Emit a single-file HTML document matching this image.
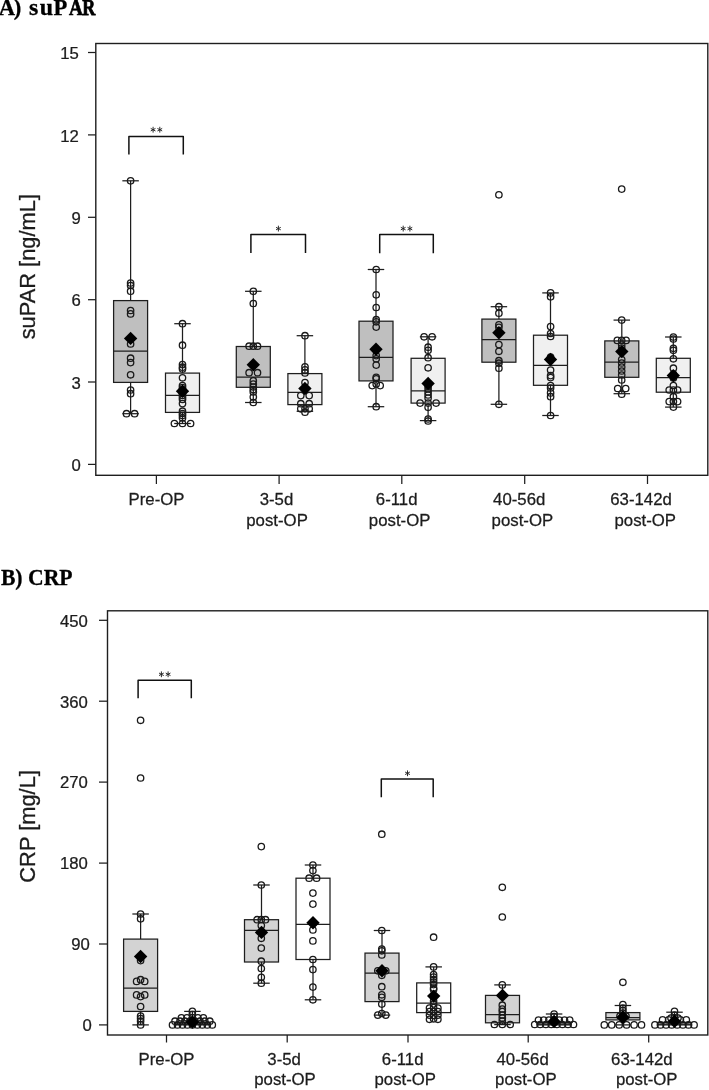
<!DOCTYPE html>
<html><head><meta charset="utf-8"><title>Figure</title>
<style>
html,body{margin:0;padding:0;background:#fff;}
body{width:709px;height:1090px;overflow:hidden;position:relative;font-family:"Liberation Sans",sans-serif;}
svg{position:absolute;left:0;top:0;display:block;will-change:transform;}
.l{stroke:#1e1e1e;stroke-width:1.25;fill:none;}
.f{stroke:#1e1e1e;stroke-width:1.4;}
.b{stroke:#1e1e1e;stroke-width:1.25;}
.c{stroke:#1a1a1a;stroke-width:1.3;fill:none;}
.t{font-family:"Liberation Sans",sans-serif;font-size:16px;fill:#1c1c1c;stroke:#1c1c1c;stroke-width:0.25;}
.x{font-size:16px;}
.yl{font-family:"Liberation Sans",sans-serif;font-size:21.85px;fill:#1c1c1c;stroke:#1c1c1c;stroke-width:0.3;}
.h{font-family:"Liberation Serif",serif;font-weight:bold;font-size:22.6px;fill:#000;stroke:#000;stroke-width:0.3;}
.h2{stroke-width:0.75;}
</style></head><body>
<svg width="709" height="1090" viewBox="0 0 709 1090">
<rect width="709" height="1090" fill="#fff"/>
<text y="14.7" class="h"><tspan x="-1.2">A</tspan><tspan x="13.7">)</tspan><tspan x="53.5">P</tspan></text>
<text transform="translate(28.9,14.7) scale(1.06,1)" class="h" letter-spacing="1.5">su</text>
<text transform="translate(68.9,14.7) scale(0.85,1)" class="h h2">A</text>
<text transform="translate(82.2,14.7) scale(0.8,1)" class="h h2">R</text>
<text transform="translate(0.9,585) scale(0.96,1.03)" class="h">B) CRP</text>
<rect x="95.8" y="43.5" width="612" height="431.8" fill="none" class="f"/>
<line x1="88" y1="52.5" x2="95.8" y2="52.5" class="l"/>
<text transform="translate(78.9,59.2) scale(1.045,1)" text-anchor="end" class="t">15</text>
<line x1="88" y1="134.9" x2="95.8" y2="134.9" class="l"/>
<text transform="translate(78.9,141.6) scale(1.045,1)" text-anchor="end" class="t">12</text>
<line x1="88" y1="217.3" x2="95.8" y2="217.3" class="l"/>
<text transform="translate(80.8,224.0) scale(1.045,1)" text-anchor="end" class="t">9</text>
<line x1="88" y1="299.7" x2="95.8" y2="299.7" class="l"/>
<text transform="translate(80.8,306.4) scale(1.045,1)" text-anchor="end" class="t">6</text>
<line x1="88" y1="382" x2="95.8" y2="382" class="l"/>
<text transform="translate(80.8,388.7) scale(1.045,1)" text-anchor="end" class="t">3</text>
<line x1="88" y1="464.4" x2="95.8" y2="464.4" class="l"/>
<text transform="translate(80.8,471.09999999999997) scale(1.045,1)" text-anchor="end" class="t">0</text>
<line x1="156.4" y1="475.3" x2="156.4" y2="484" class="l"/>
<line x1="279.1" y1="475.3" x2="279.1" y2="484" class="l"/>
<line x1="401.8" y1="475.3" x2="401.8" y2="484" class="l"/>
<line x1="524.7" y1="475.3" x2="524.7" y2="484" class="l"/>
<line x1="647.5" y1="475.3" x2="647.5" y2="484" class="l"/>
<text transform="translate(156.5,505.3) scale(1.05,1)" text-anchor="middle" class="t x">Pre-OP</text>
<text transform="translate(276.5,505.3) scale(1.05,1)" text-anchor="middle" class="t x">3-5d</text>
<text transform="translate(277.05,525.6) scale(1.05,1)" text-anchor="middle" class="t x">post-OP</text>
<text transform="translate(396.7,505.3) scale(1.05,1)" text-anchor="middle" class="t x">6-11d</text>
<text transform="translate(399.6,525.6) scale(1.05,1)" text-anchor="middle" class="t x">post-OP</text>
<text transform="translate(519.2,505.3) scale(1.05,1)" text-anchor="middle" class="t x">40-56d</text>
<text transform="translate(522.4,525.6) scale(1.05,1)" text-anchor="middle" class="t x">post-OP</text>
<text transform="translate(641.05,505.3) scale(1.05,1)" text-anchor="middle" class="t x">63-142d</text>
<text transform="translate(645.25,525.6) scale(1.05,1)" text-anchor="middle" class="t x">post-OP</text>
<text transform="translate(35.2,266.7) rotate(-90)" text-anchor="middle" class="yl">suPAR [ng/mL]</text>
<line x1="130.6" y1="180.8" x2="130.6" y2="300.6" class="l"/>
<line x1="122.35" y1="180.8" x2="138.85" y2="180.8" class="l"/>
<line x1="130.6" y1="382.4" x2="130.6" y2="413.7" class="l"/>
<line x1="122.35" y1="413.7" x2="138.85" y2="413.7" class="l"/>
<rect x="113.6" y="300.6" width="34" height="81.79999999999995" fill="#bfbfbf" class="b"/>
<line x1="113.6" y1="351.1" x2="147.6" y2="351.1" class="l"/>
<line x1="182.5" y1="323.7" x2="182.5" y2="373.1" class="l"/>
<line x1="174.25" y1="323.7" x2="190.75" y2="323.7" class="l"/>
<line x1="182.5" y1="412.4" x2="182.5" y2="423.5" class="l"/>
<line x1="174.25" y1="423.5" x2="190.75" y2="423.5" class="l"/>
<rect x="165.5" y="373.1" width="34" height="39.299999999999955" fill="#f0f0f0" class="b"/>
<line x1="165.5" y1="395.4" x2="199.5" y2="395.4" class="l"/>
<line x1="253.3" y1="291.3" x2="253.3" y2="346.5" class="l"/>
<line x1="245.05" y1="291.3" x2="261.55" y2="291.3" class="l"/>
<line x1="253.3" y1="387.3" x2="253.3" y2="402.5" class="l"/>
<line x1="245.05" y1="402.5" x2="261.55" y2="402.5" class="l"/>
<rect x="236.3" y="346.5" width="34" height="40.80000000000001" fill="#bfbfbf" class="b"/>
<line x1="236.3" y1="377" x2="270.3" y2="377" class="l"/>
<line x1="304.9" y1="335.7" x2="304.9" y2="373.6" class="l"/>
<line x1="296.65" y1="335.7" x2="313.15" y2="335.7" class="l"/>
<line x1="304.9" y1="404.6" x2="304.9" y2="411.3" class="l"/>
<line x1="296.65" y1="411.3" x2="313.15" y2="411.3" class="l"/>
<rect x="287.9" y="373.6" width="34" height="31.0" fill="#f0f0f0" class="b"/>
<line x1="287.9" y1="392.4" x2="321.9" y2="392.4" class="l"/>
<line x1="376" y1="269.5" x2="376" y2="321.2" class="l"/>
<line x1="367.75" y1="269.5" x2="384.25" y2="269.5" class="l"/>
<line x1="376" y1="380.9" x2="376" y2="406.7" class="l"/>
<line x1="367.75" y1="406.7" x2="384.25" y2="406.7" class="l"/>
<rect x="359.0" y="321.2" width="34" height="59.69999999999999" fill="#bfbfbf" class="b"/>
<line x1="359.0" y1="357.3" x2="393.0" y2="357.3" class="l"/>
<line x1="428.1" y1="336.8" x2="428.1" y2="358.3" class="l"/>
<line x1="419.85" y1="336.8" x2="436.35" y2="336.8" class="l"/>
<line x1="428.1" y1="403.1" x2="428.1" y2="420.6" class="l"/>
<line x1="419.85" y1="420.6" x2="436.35" y2="420.6" class="l"/>
<rect x="411.1" y="358.3" width="34" height="44.80000000000001" fill="#f0f0f0" class="b"/>
<line x1="411.1" y1="390.8" x2="445.1" y2="390.8" class="l"/>
<line x1="498.9" y1="306.7" x2="498.9" y2="319.1" class="l"/>
<line x1="490.65" y1="306.7" x2="507.15" y2="306.7" class="l"/>
<line x1="498.9" y1="362.2" x2="498.9" y2="404.3" class="l"/>
<line x1="490.65" y1="404.3" x2="507.15" y2="404.3" class="l"/>
<rect x="481.9" y="319.1" width="34" height="43.099999999999966" fill="#bfbfbf" class="b"/>
<line x1="481.9" y1="339.7" x2="515.9" y2="339.7" class="l"/>
<line x1="550.5" y1="292.9" x2="550.5" y2="335.2" class="l"/>
<line x1="542.25" y1="292.9" x2="558.75" y2="292.9" class="l"/>
<line x1="550.5" y1="385.3" x2="550.5" y2="415.5" class="l"/>
<line x1="542.25" y1="415.5" x2="558.75" y2="415.5" class="l"/>
<rect x="533.5" y="335.2" width="34" height="50.10000000000002" fill="#f0f0f0" class="b"/>
<line x1="533.5" y1="365.4" x2="567.5" y2="365.4" class="l"/>
<line x1="621.8" y1="320.1" x2="621.8" y2="340.9" class="l"/>
<line x1="613.55" y1="320.1" x2="630.05" y2="320.1" class="l"/>
<line x1="621.8" y1="377.3" x2="621.8" y2="393.7" class="l"/>
<line x1="613.55" y1="393.7" x2="630.05" y2="393.7" class="l"/>
<rect x="604.8" y="340.9" width="34" height="36.400000000000034" fill="#bfbfbf" class="b"/>
<line x1="604.8" y1="362" x2="638.8" y2="362" class="l"/>
<line x1="673.3" y1="337" x2="673.3" y2="358.3" class="l"/>
<line x1="665.05" y1="337" x2="681.55" y2="337" class="l"/>
<line x1="673.3" y1="392.2" x2="673.3" y2="407.1" class="l"/>
<line x1="665.05" y1="407.1" x2="681.55" y2="407.1" class="l"/>
<rect x="656.3" y="358.3" width="34" height="33.89999999999998" fill="#f0f0f0" class="b"/>
<line x1="656.3" y1="377.6" x2="690.3" y2="377.6" class="l"/>
<circle cx="130.6" cy="180.8" r="3.2" class="c"/>
<circle cx="130.6" cy="283.0" r="3.2" class="c"/>
<circle cx="130.6" cy="285.5" r="3.2" class="c"/>
<circle cx="130.6" cy="291.2" r="3.2" class="c"/>
<circle cx="130.6" cy="310.5" r="3.2" class="c"/>
<circle cx="130.6" cy="313.9" r="3.2" class="c"/>
<circle cx="130.6" cy="344.0" r="3.2" class="c"/>
<circle cx="130.6" cy="358.2" r="3.2" class="c"/>
<circle cx="130.6" cy="362.6" r="3.2" class="c"/>
<circle cx="130.6" cy="374.8" r="3.2" class="c"/>
<circle cx="130.6" cy="390.0" r="3.2" class="c"/>
<circle cx="130.6" cy="393.7" r="3.2" class="c"/>
<circle cx="126.5" cy="413.7" r="3.2" class="c"/>
<circle cx="134.6" cy="413.7" r="3.2" class="c"/>
<circle cx="182.5" cy="323.7" r="3.2" class="c"/>
<circle cx="182.5" cy="345.2" r="3.2" class="c"/>
<circle cx="182.5" cy="364.6" r="3.2" class="c"/>
<circle cx="182.5" cy="367.2" r="3.2" class="c"/>
<circle cx="182.5" cy="368.9" r="3.2" class="c"/>
<circle cx="182.5" cy="377.8" r="3.2" class="c"/>
<circle cx="182.5" cy="385.5" r="3.2" class="c"/>
<circle cx="182.5" cy="387.5" r="3.2" class="c"/>
<circle cx="182.5" cy="389.5" r="3.2" class="c"/>
<circle cx="182.5" cy="391.5" r="3.2" class="c"/>
<circle cx="182.5" cy="393.5" r="3.2" class="c"/>
<circle cx="182.5" cy="395.5" r="3.2" class="c"/>
<circle cx="182.5" cy="397.5" r="3.2" class="c"/>
<circle cx="182.5" cy="399.5" r="3.2" class="c"/>
<circle cx="182.5" cy="403.6" r="3.2" class="c"/>
<circle cx="182.5" cy="411.2" r="3.2" class="c"/>
<circle cx="182.5" cy="413.5" r="3.2" class="c"/>
<circle cx="182.5" cy="415.4" r="3.2" class="c"/>
<circle cx="182.5" cy="418.0" r="3.2" class="c"/>
<circle cx="174.4" cy="423.5" r="3.2" class="c"/>
<circle cx="182.5" cy="423.5" r="3.2" class="c"/>
<circle cx="190.6" cy="423.5" r="3.2" class="c"/>
<circle cx="253.3" cy="291.3" r="3.2" class="c"/>
<circle cx="253.3" cy="303.5" r="3.2" class="c"/>
<circle cx="253.3" cy="380.9" r="3.2" class="c"/>
<circle cx="253.3" cy="384.0" r="3.2" class="c"/>
<circle cx="253.3" cy="387.0" r="3.2" class="c"/>
<circle cx="253.3" cy="389.5" r="3.2" class="c"/>
<circle cx="253.3" cy="391.9" r="3.2" class="c"/>
<circle cx="253.3" cy="397.0" r="3.2" class="c"/>
<circle cx="253.3" cy="402.5" r="3.2" class="c"/>
<circle cx="249.1" cy="346.2" r="3.2" class="c"/>
<circle cx="253.3" cy="346.2" r="3.2" class="c"/>
<circle cx="257.5" cy="346.2" r="3.2" class="c"/>
<circle cx="249.1" cy="372.7" r="3.2" class="c"/>
<circle cx="257.5" cy="372.7" r="3.2" class="c"/>
<circle cx="305.0" cy="335.7" r="3.2" class="c"/>
<circle cx="305.0" cy="366.8" r="3.2" class="c"/>
<circle cx="305.0" cy="369.9" r="3.2" class="c"/>
<circle cx="305.0" cy="372.9" r="3.2" class="c"/>
<circle cx="305.0" cy="382.6" r="3.2" class="c"/>
<circle cx="305.0" cy="412.2" r="3.2" class="c"/>
<circle cx="300.8" cy="395.6" r="3.2" class="c"/>
<circle cx="309.2" cy="395.6" r="3.2" class="c"/>
<circle cx="300.8" cy="403.7" r="3.2" class="c"/>
<circle cx="309.2" cy="403.7" r="3.2" class="c"/>
<circle cx="300.8" cy="408.8" r="3.2" class="c"/>
<circle cx="305.0" cy="408.8" r="3.2" class="c"/>
<circle cx="309.2" cy="408.8" r="3.2" class="c"/>
<circle cx="376.2" cy="269.5" r="3.2" class="c"/>
<circle cx="376.2" cy="294.8" r="3.2" class="c"/>
<circle cx="376.2" cy="307.5" r="3.2" class="c"/>
<circle cx="376.2" cy="319.7" r="3.2" class="c"/>
<circle cx="376.2" cy="321.8" r="3.2" class="c"/>
<circle cx="376.2" cy="327.1" r="3.2" class="c"/>
<circle cx="376.2" cy="355.6" r="3.2" class="c"/>
<circle cx="376.2" cy="358.8" r="3.2" class="c"/>
<circle cx="376.2" cy="365.1" r="3.2" class="c"/>
<circle cx="376.2" cy="377.3" r="3.2" class="c"/>
<circle cx="376.2" cy="378.8" r="3.2" class="c"/>
<circle cx="376.2" cy="384.0" r="3.2" class="c"/>
<circle cx="376.2" cy="406.7" r="3.2" class="c"/>
<circle cx="372.2" cy="385.6" r="3.2" class="c"/>
<circle cx="380.2" cy="385.6" r="3.2" class="c"/>
<circle cx="428.1" cy="347.2" r="3.2" class="c"/>
<circle cx="428.1" cy="350.3" r="3.2" class="c"/>
<circle cx="428.1" cy="357.7" r="3.2" class="c"/>
<circle cx="428.1" cy="367.8" r="3.2" class="c"/>
<circle cx="428.1" cy="386.0" r="3.2" class="c"/>
<circle cx="428.1" cy="389.0" r="3.2" class="c"/>
<circle cx="428.1" cy="392.0" r="3.2" class="c"/>
<circle cx="428.1" cy="395.0" r="3.2" class="c"/>
<circle cx="428.1" cy="398.0" r="3.2" class="c"/>
<circle cx="428.1" cy="407.3" r="3.2" class="c"/>
<circle cx="428.1" cy="419.0" r="3.2" class="c"/>
<circle cx="428.1" cy="421.0" r="3.2" class="c"/>
<circle cx="424.1" cy="336.8" r="3.2" class="c"/>
<circle cx="432.1" cy="336.8" r="3.2" class="c"/>
<circle cx="420.1" cy="403.1" r="3.2" class="c"/>
<circle cx="428.1" cy="403.1" r="3.2" class="c"/>
<circle cx="436.1" cy="403.1" r="3.2" class="c"/>
<circle cx="498.9" cy="194.8" r="3.2" class="c"/>
<circle cx="498.9" cy="306.7" r="3.2" class="c"/>
<circle cx="498.9" cy="313.2" r="3.2" class="c"/>
<circle cx="498.9" cy="324.8" r="3.2" class="c"/>
<circle cx="498.9" cy="327.3" r="3.2" class="c"/>
<circle cx="498.9" cy="344.6" r="3.2" class="c"/>
<circle cx="498.9" cy="351.3" r="3.2" class="c"/>
<circle cx="498.9" cy="360.7" r="3.2" class="c"/>
<circle cx="498.9" cy="363.2" r="3.2" class="c"/>
<circle cx="498.9" cy="368.2" r="3.2" class="c"/>
<circle cx="498.9" cy="404.3" r="3.2" class="c"/>
<circle cx="550.6" cy="292.9" r="3.2" class="c"/>
<circle cx="550.6" cy="296.8" r="3.2" class="c"/>
<circle cx="550.6" cy="326.6" r="3.2" class="c"/>
<circle cx="550.6" cy="333.5" r="3.2" class="c"/>
<circle cx="550.6" cy="336.5" r="3.2" class="c"/>
<circle cx="550.6" cy="357.0" r="3.2" class="c"/>
<circle cx="550.6" cy="370.1" r="3.2" class="c"/>
<circle cx="550.6" cy="375.6" r="3.2" class="c"/>
<circle cx="550.6" cy="377.6" r="3.2" class="c"/>
<circle cx="550.6" cy="385.5" r="3.2" class="c"/>
<circle cx="550.6" cy="388.0" r="3.2" class="c"/>
<circle cx="550.6" cy="392.9" r="3.2" class="c"/>
<circle cx="550.6" cy="396.7" r="3.2" class="c"/>
<circle cx="550.6" cy="415.5" r="3.2" class="c"/>
<circle cx="621.7" cy="189.1" r="3.2" class="c"/>
<circle cx="621.7" cy="320.1" r="3.2" class="c"/>
<circle cx="621.7" cy="345.0" r="3.2" class="c"/>
<circle cx="621.7" cy="348.0" r="3.2" class="c"/>
<circle cx="621.7" cy="359.5" r="3.2" class="c"/>
<circle cx="621.7" cy="363.0" r="3.2" class="c"/>
<circle cx="621.7" cy="367.0" r="3.2" class="c"/>
<circle cx="621.7" cy="371.0" r="3.2" class="c"/>
<circle cx="621.7" cy="375.0" r="3.2" class="c"/>
<circle cx="621.7" cy="380.0" r="3.2" class="c"/>
<circle cx="621.7" cy="394.2" r="3.2" class="c"/>
<circle cx="617.3" cy="340.4" r="3.2" class="c"/>
<circle cx="621.7" cy="340.4" r="3.2" class="c"/>
<circle cx="626.1" cy="340.4" r="3.2" class="c"/>
<circle cx="617.7" cy="388.5" r="3.2" class="c"/>
<circle cx="625.7" cy="388.5" r="3.2" class="c"/>
<circle cx="673.4" cy="337.0" r="3.2" class="c"/>
<circle cx="673.4" cy="339.0" r="3.2" class="c"/>
<circle cx="673.4" cy="348.3" r="3.2" class="c"/>
<circle cx="673.4" cy="350.3" r="3.2" class="c"/>
<circle cx="673.4" cy="358.8" r="3.2" class="c"/>
<circle cx="673.4" cy="368.2" r="3.2" class="c"/>
<circle cx="673.4" cy="374.0" r="3.2" class="c"/>
<circle cx="673.4" cy="378.0" r="3.2" class="c"/>
<circle cx="673.4" cy="385.5" r="3.2" class="c"/>
<circle cx="673.4" cy="396.7" r="3.2" class="c"/>
<circle cx="673.4" cy="407.1" r="3.2" class="c"/>
<circle cx="669.2" cy="390.0" r="3.2" class="c"/>
<circle cx="673.4" cy="390.0" r="3.2" class="c"/>
<circle cx="677.6" cy="390.0" r="3.2" class="c"/>
<circle cx="669.2" cy="401.6" r="3.2" class="c"/>
<circle cx="673.4" cy="401.6" r="3.2" class="c"/>
<circle cx="677.6" cy="401.6" r="3.2" class="c"/>
<path d="M123.89999999999999 338.4L130.6 331.7L137.29999999999998 338.4L130.6 345.09999999999997Z" fill="#000"/>
<path d="M175.8 391.2L182.5 384.5L189.2 391.2L182.5 397.9Z" fill="#000"/>
<path d="M246.60000000000002 364.8L253.3 358.1L260.0 364.8L253.3 371.5Z" fill="#000"/>
<path d="M298.2 388.5L304.9 381.8L311.59999999999997 388.5L304.9 395.2Z" fill="#000"/>
<path d="M369.3 349.3L376 342.6L382.7 349.3L376 356.0Z" fill="#000"/>
<path d="M421.40000000000003 383.5L428.1 376.8L434.8 383.5L428.1 390.2Z" fill="#000"/>
<path d="M492.2 332.7L498.9 326.0L505.59999999999997 332.7L498.9 339.4Z" fill="#000"/>
<path d="M543.8 359.5L550.5 352.8L557.2 359.5L550.5 366.2Z" fill="#000"/>
<path d="M615.0999999999999 351.6L621.8 344.90000000000003L628.5 351.6L621.8 358.3Z" fill="#000"/>
<path d="M666.5999999999999 375.6L673.3 368.90000000000003L680.0 375.6L673.3 382.3Z" fill="#000"/>
<path d="M128.9 154.4V136.4H183.3V154.4" fill="none" stroke="#111" stroke-width="1.5" stroke-linejoin="round"/>
<path d="M153.10 126.80V132.60M150.72 128.43L155.48 130.97M155.48 128.43L150.72 130.97" stroke="#222" stroke-width="0.95" fill="none"/>
<path d="M159.80 126.80V132.60M157.42 128.43L162.18 130.97M162.18 128.43L157.42 130.97" stroke="#222" stroke-width="0.95" fill="none"/>
<path d="M250.9 252.9V234.4H305.5V252.9" fill="none" stroke="#111" stroke-width="1.5" stroke-linejoin="round"/>
<path d="M278.40 225.70V231.50M276.02 227.33L280.78 229.87M280.78 227.33L276.02 229.87" stroke="#222" stroke-width="0.95" fill="none"/>
<path d="M379.7 253.3V234.5H433.3V253.3" fill="none" stroke="#111" stroke-width="1.5" stroke-linejoin="round"/>
<path d="M403.20 225.70V231.50M400.82 227.33L405.58 229.87M405.58 227.33L400.82 229.87" stroke="#222" stroke-width="0.95" fill="none"/>
<path d="M409.90 225.70V231.50M407.52 227.33L412.28 229.87M412.28 227.33L407.52 229.87" stroke="#222" stroke-width="0.95" fill="none"/>
<rect x="107.5" y="610.8" width="600.3" height="424.2" fill="none" class="f"/>
<line x1="99" y1="620.3" x2="107.5" y2="620.3" class="l"/>
<text transform="translate(87.9,626.5999999999999) scale(1.045,1)" text-anchor="end" class="t">450</text>
<line x1="99" y1="701.2" x2="107.5" y2="701.2" class="l"/>
<text transform="translate(87.9,707.5) scale(1.045,1)" text-anchor="end" class="t">360</text>
<line x1="99" y1="782.1" x2="107.5" y2="782.1" class="l"/>
<text transform="translate(87.9,788.4) scale(1.045,1)" text-anchor="end" class="t">270</text>
<line x1="99" y1="863.1" x2="107.5" y2="863.1" class="l"/>
<text transform="translate(87.9,869.4) scale(1.045,1)" text-anchor="end" class="t">180</text>
<line x1="99" y1="944" x2="107.5" y2="944" class="l"/>
<text transform="translate(89.9,950.3) scale(1.045,1)" text-anchor="end" class="t">90</text>
<line x1="99" y1="1024.9" x2="107.5" y2="1024.9" class="l"/>
<text transform="translate(91.9,1031.2) scale(1.045,1)" text-anchor="end" class="t">0</text>
<line x1="166.5" y1="1035" x2="166.5" y2="1042.5" class="l"/>
<line x1="287.2" y1="1035" x2="287.2" y2="1042.5" class="l"/>
<line x1="408" y1="1035" x2="408" y2="1042.5" class="l"/>
<line x1="528.2" y1="1035" x2="528.2" y2="1042.5" class="l"/>
<line x1="648.7" y1="1035" x2="648.7" y2="1042.5" class="l"/>
<text transform="translate(166.5,1064.5) scale(1.05,1)" text-anchor="middle" class="t x">Pre-OP</text>
<text transform="translate(284.15,1064.5) scale(1.05,1)" text-anchor="middle" class="t x">3-5d</text>
<text transform="translate(285,1084.8) scale(1.05,1)" text-anchor="middle" class="t x">post-OP</text>
<text transform="translate(402.7,1064.5) scale(1.05,1)" text-anchor="middle" class="t x">6-11d</text>
<text transform="translate(405.25,1084.8) scale(1.05,1)" text-anchor="middle" class="t x">post-OP</text>
<text transform="translate(522.6,1064.5) scale(1.05,1)" text-anchor="middle" class="t x">40-56d</text>
<text transform="translate(525.85,1084.8) scale(1.05,1)" text-anchor="middle" class="t x">post-OP</text>
<text transform="translate(641.9,1064.5) scale(1.05,1)" text-anchor="middle" class="t x">63-142d</text>
<text transform="translate(646.7,1084.8) scale(1.05,1)" text-anchor="middle" class="t x">post-OP</text>
<text transform="translate(35.2,826.4) rotate(-90)" text-anchor="middle" class="yl">CRP [mg/L]</text>
<line x1="140.6" y1="914" x2="140.6" y2="939.1" class="l"/>
<line x1="132.35" y1="914" x2="148.85" y2="914" class="l"/>
<line x1="140.6" y1="1011.4" x2="140.6" y2="1024.9" class="l"/>
<line x1="132.35" y1="1024.9" x2="148.85" y2="1024.9" class="l"/>
<rect x="123.6" y="939.1" width="34" height="72.29999999999995" fill="#d3d3d3" class="b"/>
<line x1="123.6" y1="988.2" x2="157.6" y2="988.2" class="l"/>
<line x1="192.4" y1="1011.4" x2="192.4" y2="1022.5" class="l"/>
<line x1="184.15" y1="1011.4" x2="200.65" y2="1011.4" class="l"/>
<rect x="175.4" y="1022.5" width="34" height="2.400000000000091" fill="#ffffff" class="b"/>
<line x1="175.4" y1="1024" x2="209.4" y2="1024" class="l"/>
<line x1="261.5" y1="885" x2="261.5" y2="919.7" class="l"/>
<line x1="253.25" y1="885" x2="269.75" y2="885" class="l"/>
<line x1="261.5" y1="962" x2="261.5" y2="983.2" class="l"/>
<line x1="253.25" y1="983.2" x2="269.75" y2="983.2" class="l"/>
<rect x="244.5" y="919.7" width="34" height="42.299999999999955" fill="#d3d3d3" class="b"/>
<line x1="244.5" y1="930.4" x2="278.5" y2="930.4" class="l"/>
<line x1="313" y1="865" x2="313" y2="878.2" class="l"/>
<line x1="304.75" y1="865" x2="321.25" y2="865" class="l"/>
<line x1="313" y1="959.5" x2="313" y2="999.8" class="l"/>
<line x1="304.75" y1="999.8" x2="321.25" y2="999.8" class="l"/>
<rect x="296.0" y="878.2" width="34" height="81.29999999999995" fill="#ffffff" class="b"/>
<line x1="296.0" y1="924.4" x2="330.0" y2="924.4" class="l"/>
<line x1="382" y1="930.5" x2="382" y2="953.1" class="l"/>
<line x1="373.75" y1="930.5" x2="390.25" y2="930.5" class="l"/>
<line x1="382" y1="1001.6" x2="382" y2="1015.1" class="l"/>
<line x1="373.75" y1="1015.1" x2="390.25" y2="1015.1" class="l"/>
<rect x="365.0" y="953.1" width="34" height="48.5" fill="#d3d3d3" class="b"/>
<line x1="365.0" y1="973.1" x2="399.0" y2="973.1" class="l"/>
<line x1="433.7" y1="966.9" x2="433.7" y2="982.9" class="l"/>
<line x1="425.45" y1="966.9" x2="441.95" y2="966.9" class="l"/>
<rect x="416.7" y="982.9" width="34" height="29.700000000000045" fill="#ffffff" class="b"/>
<line x1="416.7" y1="1003.2" x2="450.7" y2="1003.2" class="l"/>
<line x1="502.5" y1="984.9" x2="502.5" y2="995.4" class="l"/>
<line x1="494.25" y1="984.9" x2="510.75" y2="984.9" class="l"/>
<line x1="502.5" y1="1022.8" x2="502.5" y2="1024.6" class="l"/>
<line x1="494.25" y1="1024.6" x2="510.75" y2="1024.6" class="l"/>
<rect x="485.5" y="995.4" width="34" height="27.399999999999977" fill="#d3d3d3" class="b"/>
<line x1="485.5" y1="1014.5" x2="519.5" y2="1014.5" class="l"/>
<line x1="554.1" y1="1014" x2="554.1" y2="1022.5" class="l"/>
<line x1="545.85" y1="1014" x2="562.35" y2="1014" class="l"/>
<rect x="537.1" y="1022.5" width="34" height="2.400000000000091" fill="#ffffff" class="b"/>
<line x1="537.1" y1="1024" x2="571.1" y2="1024" class="l"/>
<line x1="622.9" y1="1005.5" x2="622.9" y2="1012.6" class="l"/>
<line x1="614.65" y1="1005.5" x2="631.15" y2="1005.5" class="l"/>
<line x1="622.9" y1="1019.9" x2="622.9" y2="1024.9" class="l"/>
<line x1="614.65" y1="1024.9" x2="631.15" y2="1024.9" class="l"/>
<rect x="605.9" y="1012.6" width="34" height="7.2999999999999545" fill="#d3d3d3" class="b"/>
<line x1="605.9" y1="1017.7" x2="639.9" y2="1017.7" class="l"/>
<line x1="674.5" y1="1012.2" x2="674.5" y2="1022.5" class="l"/>
<line x1="666.25" y1="1012.2" x2="682.75" y2="1012.2" class="l"/>
<rect x="657.5" y="1022.5" width="34" height="2.400000000000091" fill="#ffffff" class="b"/>
<line x1="657.5" y1="1024" x2="691.5" y2="1024" class="l"/>
<circle cx="140.6" cy="720.3" r="3.2" class="c"/>
<circle cx="140.6" cy="778.0" r="3.2" class="c"/>
<circle cx="140.6" cy="914.0" r="3.2" class="c"/>
<circle cx="140.6" cy="918.8" r="3.2" class="c"/>
<circle cx="140.6" cy="960.6" r="3.2" class="c"/>
<circle cx="140.6" cy="979.7" r="3.2" class="c"/>
<circle cx="140.6" cy="996.6" r="3.2" class="c"/>
<circle cx="140.6" cy="1006.5" r="3.2" class="c"/>
<circle cx="140.6" cy="1016.1" r="3.2" class="c"/>
<circle cx="140.6" cy="1018.6" r="3.2" class="c"/>
<circle cx="140.6" cy="1021.2" r="3.2" class="c"/>
<circle cx="140.6" cy="1024.9" r="3.2" class="c"/>
<circle cx="136.6" cy="981.4" r="3.2" class="c"/>
<circle cx="144.7" cy="981.4" r="3.2" class="c"/>
<circle cx="136.6" cy="994.9" r="3.2" class="c"/>
<circle cx="144.7" cy="994.9" r="3.2" class="c"/>
<circle cx="172.5" cy="1024.9" r="3.2" class="c"/>
<circle cx="177.5" cy="1024.9" r="3.2" class="c"/>
<circle cx="182.5" cy="1024.9" r="3.2" class="c"/>
<circle cx="187.4" cy="1024.9" r="3.2" class="c"/>
<circle cx="192.4" cy="1024.9" r="3.2" class="c"/>
<circle cx="197.4" cy="1024.9" r="3.2" class="c"/>
<circle cx="202.3" cy="1024.9" r="3.2" class="c"/>
<circle cx="207.3" cy="1024.9" r="3.2" class="c"/>
<circle cx="212.3" cy="1024.9" r="3.2" class="c"/>
<circle cx="175.0" cy="1021.2" r="3.2" class="c"/>
<circle cx="180.0" cy="1021.2" r="3.2" class="c"/>
<circle cx="184.9" cy="1021.2" r="3.2" class="c"/>
<circle cx="189.9" cy="1021.2" r="3.2" class="c"/>
<circle cx="194.9" cy="1021.2" r="3.2" class="c"/>
<circle cx="199.9" cy="1021.2" r="3.2" class="c"/>
<circle cx="204.8" cy="1021.2" r="3.2" class="c"/>
<circle cx="209.8" cy="1021.2" r="3.2" class="c"/>
<circle cx="181.4" cy="1017.8" r="3.2" class="c"/>
<circle cx="186.9" cy="1017.8" r="3.2" class="c"/>
<circle cx="192.4" cy="1017.8" r="3.2" class="c"/>
<circle cx="197.9" cy="1017.8" r="3.2" class="c"/>
<circle cx="203.4" cy="1017.8" r="3.2" class="c"/>
<circle cx="192.4" cy="1011.4" r="3.2" class="c"/>
<circle cx="192.4" cy="1014.5" r="3.2" class="c"/>
<circle cx="261.3" cy="846.6" r="3.2" class="c"/>
<circle cx="261.3" cy="885.0" r="3.2" class="c"/>
<circle cx="261.3" cy="925.6" r="3.2" class="c"/>
<circle cx="261.3" cy="938.3" r="3.2" class="c"/>
<circle cx="261.3" cy="948.1" r="3.2" class="c"/>
<circle cx="261.3" cy="961.2" r="3.2" class="c"/>
<circle cx="261.3" cy="968.5" r="3.2" class="c"/>
<circle cx="261.3" cy="977.3" r="3.2" class="c"/>
<circle cx="261.3" cy="983.2" r="3.2" class="c"/>
<circle cx="257.1" cy="919.7" r="3.2" class="c"/>
<circle cx="261.3" cy="919.7" r="3.2" class="c"/>
<circle cx="265.5" cy="919.7" r="3.2" class="c"/>
<circle cx="312.9" cy="865.0" r="3.2" class="c"/>
<circle cx="312.9" cy="870.6" r="3.2" class="c"/>
<circle cx="312.9" cy="893.1" r="3.2" class="c"/>
<circle cx="312.9" cy="904.1" r="3.2" class="c"/>
<circle cx="312.9" cy="929.9" r="3.2" class="c"/>
<circle cx="312.9" cy="940.9" r="3.2" class="c"/>
<circle cx="312.9" cy="959.5" r="3.2" class="c"/>
<circle cx="312.9" cy="969.6" r="3.2" class="c"/>
<circle cx="312.9" cy="987.1" r="3.2" class="c"/>
<circle cx="312.9" cy="999.8" r="3.2" class="c"/>
<circle cx="309.1" cy="878.2" r="3.2" class="c"/>
<circle cx="316.6" cy="878.2" r="3.2" class="c"/>
<circle cx="381.8" cy="834.2" r="3.2" class="c"/>
<circle cx="381.8" cy="930.5" r="3.2" class="c"/>
<circle cx="381.8" cy="949.1" r="3.2" class="c"/>
<circle cx="381.8" cy="950.8" r="3.2" class="c"/>
<circle cx="381.8" cy="955.0" r="3.2" class="c"/>
<circle cx="381.8" cy="975.3" r="3.2" class="c"/>
<circle cx="381.8" cy="986.7" r="3.2" class="c"/>
<circle cx="381.8" cy="994.8" r="3.2" class="c"/>
<circle cx="381.8" cy="997.3" r="3.2" class="c"/>
<circle cx="381.8" cy="1004.1" r="3.2" class="c"/>
<circle cx="381.8" cy="1013.5" r="3.2" class="c"/>
<circle cx="377.8" cy="970.8" r="3.2" class="c"/>
<circle cx="381.8" cy="970.8" r="3.2" class="c"/>
<circle cx="385.8" cy="970.8" r="3.2" class="c"/>
<circle cx="377.8" cy="1015.1" r="3.2" class="c"/>
<circle cx="385.8" cy="1015.1" r="3.2" class="c"/>
<circle cx="433.6" cy="937.2" r="3.2" class="c"/>
<circle cx="433.6" cy="966.9" r="3.2" class="c"/>
<circle cx="433.6" cy="974.5" r="3.2" class="c"/>
<circle cx="433.6" cy="977.0" r="3.2" class="c"/>
<circle cx="433.6" cy="979.6" r="3.2" class="c"/>
<circle cx="433.6" cy="982.1" r="3.2" class="c"/>
<circle cx="433.6" cy="984.6" r="3.2" class="c"/>
<circle cx="433.6" cy="988.0" r="3.2" class="c"/>
<circle cx="433.6" cy="989.6" r="3.2" class="c"/>
<circle cx="433.6" cy="1001.0" r="3.2" class="c"/>
<circle cx="433.6" cy="1004.0" r="3.2" class="c"/>
<circle cx="433.6" cy="1007.5" r="3.2" class="c"/>
<circle cx="433.6" cy="1011.5" r="3.2" class="c"/>
<circle cx="433.6" cy="1015.5" r="3.2" class="c"/>
<circle cx="433.6" cy="1018.8" r="3.2" class="c"/>
<circle cx="429.5" cy="1008.1" r="3.2" class="c"/>
<circle cx="437.9" cy="1008.1" r="3.2" class="c"/>
<circle cx="429.5" cy="1011.6" r="3.2" class="c"/>
<circle cx="437.9" cy="1011.6" r="3.2" class="c"/>
<circle cx="429.5" cy="1015.1" r="3.2" class="c"/>
<circle cx="437.9" cy="1015.1" r="3.2" class="c"/>
<circle cx="429.5" cy="1019.3" r="3.2" class="c"/>
<circle cx="437.9" cy="1019.3" r="3.2" class="c"/>
<circle cx="502.3" cy="887.3" r="3.2" class="c"/>
<circle cx="502.3" cy="917.0" r="3.2" class="c"/>
<circle cx="502.3" cy="984.9" r="3.2" class="c"/>
<circle cx="502.3" cy="1005.2" r="3.2" class="c"/>
<circle cx="502.3" cy="1009.0" r="3.2" class="c"/>
<circle cx="502.3" cy="1011.5" r="3.2" class="c"/>
<circle cx="502.3" cy="1015.0" r="3.2" class="c"/>
<circle cx="502.3" cy="1018.0" r="3.2" class="c"/>
<circle cx="502.3" cy="1021.0" r="3.2" class="c"/>
<circle cx="494.4" cy="1024.5" r="3.2" class="c"/>
<circle cx="502.3" cy="1024.5" r="3.2" class="c"/>
<circle cx="510.2" cy="1024.5" r="3.2" class="c"/>
<circle cx="534.7" cy="1024.5" r="3.2" class="c"/>
<circle cx="540.2" cy="1024.5" r="3.2" class="c"/>
<circle cx="545.8" cy="1024.5" r="3.2" class="c"/>
<circle cx="551.3" cy="1024.5" r="3.2" class="c"/>
<circle cx="556.9" cy="1024.5" r="3.2" class="c"/>
<circle cx="562.4" cy="1024.5" r="3.2" class="c"/>
<circle cx="568.0" cy="1024.5" r="3.2" class="c"/>
<circle cx="573.5" cy="1024.5" r="3.2" class="c"/>
<circle cx="538.5" cy="1020.0" r="3.2" class="c"/>
<circle cx="543.7" cy="1020.0" r="3.2" class="c"/>
<circle cx="548.9" cy="1020.0" r="3.2" class="c"/>
<circle cx="554.1" cy="1020.0" r="3.2" class="c"/>
<circle cx="559.3" cy="1020.0" r="3.2" class="c"/>
<circle cx="564.5" cy="1020.0" r="3.2" class="c"/>
<circle cx="569.7" cy="1020.0" r="3.2" class="c"/>
<circle cx="554.1" cy="1014.0" r="3.2" class="c"/>
<circle cx="554.1" cy="1016.5" r="3.2" class="c"/>
<circle cx="622.9" cy="982.3" r="3.2" class="c"/>
<circle cx="622.9" cy="1004.5" r="3.2" class="c"/>
<circle cx="622.9" cy="1008.0" r="3.2" class="c"/>
<circle cx="622.9" cy="1010.5" r="3.2" class="c"/>
<circle cx="622.9" cy="1013.0" r="3.2" class="c"/>
<circle cx="622.9" cy="1016.0" r="3.2" class="c"/>
<circle cx="622.9" cy="1018.5" r="3.2" class="c"/>
<circle cx="620.0" cy="1016.0" r="3.2" class="c"/>
<circle cx="626.0" cy="1016.0" r="3.2" class="c"/>
<circle cx="604.3" cy="1024.9" r="3.2" class="c"/>
<circle cx="611.7" cy="1024.9" r="3.2" class="c"/>
<circle cx="619.2" cy="1024.9" r="3.2" class="c"/>
<circle cx="626.6" cy="1024.9" r="3.2" class="c"/>
<circle cx="634.1" cy="1024.9" r="3.2" class="c"/>
<circle cx="641.5" cy="1024.9" r="3.2" class="c"/>
<circle cx="654.9" cy="1024.9" r="3.2" class="c"/>
<circle cx="660.5" cy="1024.9" r="3.2" class="c"/>
<circle cx="666.1" cy="1024.9" r="3.2" class="c"/>
<circle cx="671.7" cy="1024.9" r="3.2" class="c"/>
<circle cx="677.3" cy="1024.9" r="3.2" class="c"/>
<circle cx="682.9" cy="1024.9" r="3.2" class="c"/>
<circle cx="688.5" cy="1024.9" r="3.2" class="c"/>
<circle cx="694.1" cy="1024.9" r="3.2" class="c"/>
<circle cx="662.6" cy="1019.9" r="3.2" class="c"/>
<circle cx="668.6" cy="1019.9" r="3.2" class="c"/>
<circle cx="680.4" cy="1019.9" r="3.2" class="c"/>
<circle cx="686.3" cy="1019.9" r="3.2" class="c"/>
<circle cx="674.5" cy="1011.4" r="3.2" class="c"/>
<circle cx="674.5" cy="1015.0" r="3.2" class="c"/>
<circle cx="671.0" cy="1018.0" r="3.2" class="c"/>
<circle cx="678.0" cy="1018.0" r="3.2" class="c"/>
<path d="M133.9 956.5L140.6 949.8L147.29999999999998 956.5L140.6 963.2Z" fill="#000"/>
<path d="M185.70000000000002 1022L192.4 1015.3L199.1 1022L192.4 1028.7Z" fill="#000"/>
<path d="M254.8 932.4L261.5 925.6999999999999L268.2 932.4L261.5 939.1Z" fill="#000"/>
<path d="M306.3 922.8L313 916.0999999999999L319.7 922.8L313 929.5Z" fill="#000"/>
<path d="M375.3 970.8L382 964.0999999999999L388.7 970.8L382 977.5Z" fill="#000"/>
<path d="M427.0 996.1L433.7 989.4L440.4 996.1L433.7 1002.8000000000001Z" fill="#000"/>
<path d="M495.8 995.4L502.5 988.6999999999999L509.2 995.4L502.5 1002.1Z" fill="#000"/>
<path d="M547.4 1021.6L554.1 1014.9L560.8000000000001 1021.6L554.1 1028.3Z" fill="#000"/>
<path d="M616.1999999999999 1017.3L622.9 1010.5999999999999L629.6 1017.3L622.9 1024.0Z" fill="#000"/>
<path d="M667.8 1021.2L674.5 1014.5L681.2 1021.2L674.5 1027.9Z" fill="#000"/>
<path d="M138.1 698.2V680.2H191.3V698.2" fill="none" stroke="#111" stroke-width="1.5" stroke-linejoin="round"/>
<path d="M161.40 671.40V677.20M159.02 673.03L163.78 675.57M163.78 673.03L159.02 675.57" stroke="#222" stroke-width="0.95" fill="none"/>
<path d="M168.10 671.40V677.20M165.72 673.03L170.48 675.57M170.48 673.03L165.72 675.57" stroke="#222" stroke-width="0.95" fill="none"/>
<path d="M381.3 797.2V779H433.2V797.2" fill="none" stroke="#111" stroke-width="1.5" stroke-linejoin="round"/>
<path d="M407.50 770.40V776.20M405.12 772.03L409.88 774.57M409.88 772.03L405.12 774.57" stroke="#222" stroke-width="0.95" fill="none"/>
</svg>
</body></html>
